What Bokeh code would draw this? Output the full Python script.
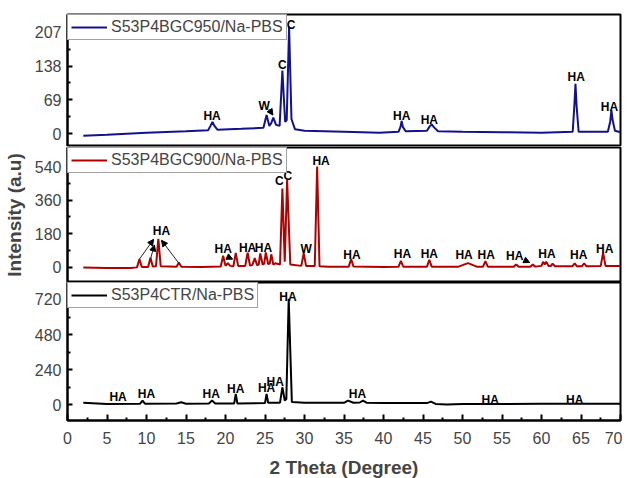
from bokeh.plotting import figure
from bokeh.layouts import column
from bokeh.models import ColumnDataSource, FixedTicker, Range1d, Legend, LegendItem, Arrow, NormalHead
from bokeh.core.properties import value
from bokeh.embed import file_html
from bokeh.resources import INLINE

FONT = "Liberation Sans"

# ---------------- data ----------------
# S53P4BGC950/Na-PBS (top)
x950 = [2.0, 5, 10, 15, 17.8, 18.1, 18.35, 18.6, 19.0, 22, 24.8, 25.2, 25.55, 25.8, 26.05, 26.4, 26.85, 27.2, 27.55, 27.75, 28.05, 28.35, 28.8, 30, 35, 39.5,
        41.9, 42.15, 42.3, 42.45, 42.8, 45.5, 45.85, 46.1, 46.4, 46.9, 50, 55, 60, 63.95, 64.15, 64.3, 64.45, 64.7, 68.4, 68.7, 68.85, 69.0, 69.3, 70]
y950 = [-4, -2, 2, 5, 7, 16, 24, 16, 8, 10, 12, 38, 16, 22, 33, 18, 16, 129, 24, 28, 218, 30, 9, 6, 4, 2,
        4, 14, 26, 14, 5, 6, 15, 19, 13, 5, 4, 3, 2, 4, 55, 102, 55, 4, 4, 25, 48, 28, 6, 3]
lab950_x = [18.3, 24.9, 27.2, 28.3, 42.3, 45.8, 64.4, 68.6]
lab950_y = [37, 57, 140, 221, 37, 29, 115, 55]
lab950_t = ["HA", "W", "C", "C", "HA", "HA", "HA", "HA"]
arr950 = [(25.5, 50, 26.0, 38)]

# S53P4BGC900/Na-PBS (middle)
x900 = [2.0, 5, 8, 8.8, 9.1, 9.4, 10.2, 10.5, 10.8, 11.2, 11.5, 11.8, 13.8, 14.1, 14.4, 17, 19.4, 19.7, 20.0, 20.3, 20.6, 21.0, 21.3, 21.6,
        22.5, 22.8, 23.1, 23.4, 23.7, 24.0, 24.2, 24.4, 24.7, 24.9, 25.1, 25.4, 25.6, 25.8, 26.05, 26.3, 26.9, 27.2, 27.5, 27.8, 28.2,
        29.6, 29.9, 30.2, 31.3, 31.6, 31.9, 33, 35.6, 35.9, 36.2, 40, 41.9, 42.2, 42.5, 45.5, 45.8, 46.1, 49.5, 50.7, 51.8,
        52.6, 52.9, 53.2, 56.5, 56.8, 57.1, 58.6, 58.9, 59.2, 60.0, 60.2, 60.4, 60.6, 60.9, 61.2, 61.4, 61.7,
        63.9, 64.2, 64.5, 65.1, 65.4, 65.7, 67.5, 67.8, 68.1, 70]
y900 = [0, -4, -3, 0, 44, 2, 2, 51, 4, 6, 153, 6, 4, 26, 3, 2, 5, 62, 8, 22, 8, 6, 77, 8,
        8, 79, 10, 12, 50, 12, 14, 75, 15, 20, 80, 18, 20, 70, 15, 22, 15, 422, 30, 469, 15,
        8, 76, 8, 8, 540, 6, 3, 4, 44, 5, 2, 4, 35, 4, 4, 40, 4, 4, 23, 4,
        4, 34, 4, 4, 15, 4, 4, 15, 4, 8, 30, 15, 30, 8, 8, 20, 6,
        6, 22, 6, 6, 22, 6, 8, 79, 8, 8]
lab900_x = [11.9, 19.7, 22.8, 24.8, 26.8, 27.9, 30.2, 32.1, 36.0, 42.4, 45.8, 50.2, 53.0, 56.6, 60.7, 64.7, 68.0]
lab900_y = [197, 97, 105, 105, 462, 487, 100, 571, 65, 70, 70, 67, 65, 62, 72, 65, 97]
lab900_t = ["HA", "HA", "HA", "HA", "C", "C", "W", "HA", "HA", "HA", "HA", "HA", "HA", "HA", "HA", "HA", "HA"]
arr900 = [(9.1, 44, 10.9, 150), (10.5, 44, 11.0, 120), (14.1, 22, 11.9, 145), (20.3, 56, 20.9, 44), (57.8, 40, 58.5, 26)]

# S53P4CTR/Na-PBS (bottom)
xctr = [2.0, 5, 9.2, 9.5, 9.8, 13.8, 14.4, 15.0, 17.9, 18.3, 18.7, 21.1, 21.3, 21.5, 25.0, 25.2, 25.4, 26.9, 27.2, 27.5, 27.7, 28.0, 28.4,
        30, 35, 35.5, 36.2, 37.0, 37.4, 37.9, 40, 45.5, 46.0, 46.6, 48, 50, 55, 60, 65, 70]
yctr = [14, 6, 8, 29, 8, 9, 18, 8, 9, 29, 10, 10, 75, 10, 12, 75, 14, 15, 120, 30, 40, 724, 20,
        14, 14, 29, 14, 16, 29, 14, 12, 12, 22, 6, 2, 5, 6, 7, 7, 7]
labctr_x = [6.4, 10.0, 18.2, 21.3, 25.2, 26.3, 27.9, 36.7, 53.5, 64.2]
labctr_y = [52, 75, 75, 109, 116, 155, 735, 75, 36, 36]
labctr_t = ["HA"] * 10

names = ["S53P4BGC950/Na-PBS", "S53P4BGC900/Na-PBS", "S53P4CTR/Na-PBS"]
colors = ["#12128c", "#b00000", "#000000"]
yticks = [[0, 69, 138, 207], [0, 180, 360, 540], [0, 240, 480, 720]]
yminor = [[34.5, 103.5, 172.5], [90, 270, 450], [120, 360, 600]]
yranges = [(-26, 243), (-81, 642), (-107, 836)]
xticks = list(range(0, 71, 5))
xminor = [v + 2.5 for v in range(0, 70, 5)]

series = [(x950, y950, lab950_x, lab950_y, lab950_t, arr950),
          (x900, y900, lab900_x, lab900_y, lab900_t, arr900),
          (xctr, yctr, labctr_x, labctr_y, labctr_t, [])]

frame_h = [132, 135, 138]
figs = []
for i, (xs, ys, lx, ly, lt, arrs) in enumerate(series):
    p = figure(output_backend="svg", toolbar_location=None,
               frame_width=553, frame_height=frame_h[i],
               x_range=Range1d(0, 70), y_range=Range1d(*yranges[i]),
               min_border_left=65, min_border_right=4,
               min_border_top=14 if i == 0 else 1 if i == 1 else 0,
               min_border_bottom=0 if i < 2 else 5)
    p.xgrid.visible = False
    p.ygrid.visible = False
    p.outline_line_color = "black"
    p.outline_line_width = 2
    p.outline_line_alpha = 1
    r = p.line(xs, ys, line_color=colors[i], line_width=2)
    src = ColumnDataSource(dict(x=lx, y=ly, t=lt))
    p.text("x", "y", text="t", source=src, text_align="center", text_baseline="middle",
           text_font=value(FONT), text_font_size="12px", text_font_style="bold", text_color="black")
    for (xa, ya, xb, yb) in arrs:
        p.add_layout(Arrow(end=NormalHead(size=6, fill_color="black", line_color="black", line_width=1),
                           x_start=xa, y_start=ya, x_end=xb, y_end=yb, line_color="#222222", line_width=1))
    leg = Legend(items=[LegendItem(label=names[i], renderers=[r])], location="top_left",
                 margin=0, padding=3, spacing=0, glyph_width=36, glyph_height=16, label_height=16,
                 label_standoff=4, label_text_font=FONT, label_text_font_size="16px",
                 border_line_color="#444444", border_line_width=1, background_fill_alpha=1)
    p.add_layout(leg)
    ya = p.yaxis[0]
    ya.ticker = FixedTicker(ticks=yticks[i], minor_ticks=yminor[i])
    ya.major_tick_in = 5
    ya.major_tick_out = 0
    ya.minor_tick_in = 3
    ya.minor_tick_out = 0
    ya.axis_line_width = 2
    ya.major_tick_line_width = 2
    ya.minor_tick_line_width = 2
    ya.major_label_text_font = FONT
    ya.major_label_text_font_size = "16px"
    ya.major_label_standoff = 6
    if i == 1:
        ya.axis_label = "Intensity (a.u)"
        ya.axis_label_text_font = FONT
        ya.axis_label_text_font_size = "19px"
        ya.axis_label_text_font_style = "bold"
        ya.axis_label_standoff = 7
    xa = p.xaxis[0]
    if i < 2:
        xa.visible = False
    else:
        xa.ticker = FixedTicker(ticks=xticks, minor_ticks=xminor)
        xa.major_tick_in = 6
        xa.major_tick_out = 0
        xa.minor_tick_in = 3
        xa.minor_tick_out = 0
        xa.axis_line_width = 2
        xa.major_tick_line_width = 2
        xa.minor_tick_line_width = 2
        xa.major_label_text_font = FONT
        xa.major_label_text_font_size = "16px"
        xa.major_label_standoff = 11
        xa.axis_label = "2 Theta (Degree)"
        xa.axis_label_text_font = FONT
        xa.axis_label_text_font_size = "19px"
        xa.axis_label_text_font_style = "bold"
        xa.axis_label_standoff = 10
    figs.append(p)

layout = column(*figs, spacing=0)
open("out.html", "w").write(file_html(layout, INLINE))
